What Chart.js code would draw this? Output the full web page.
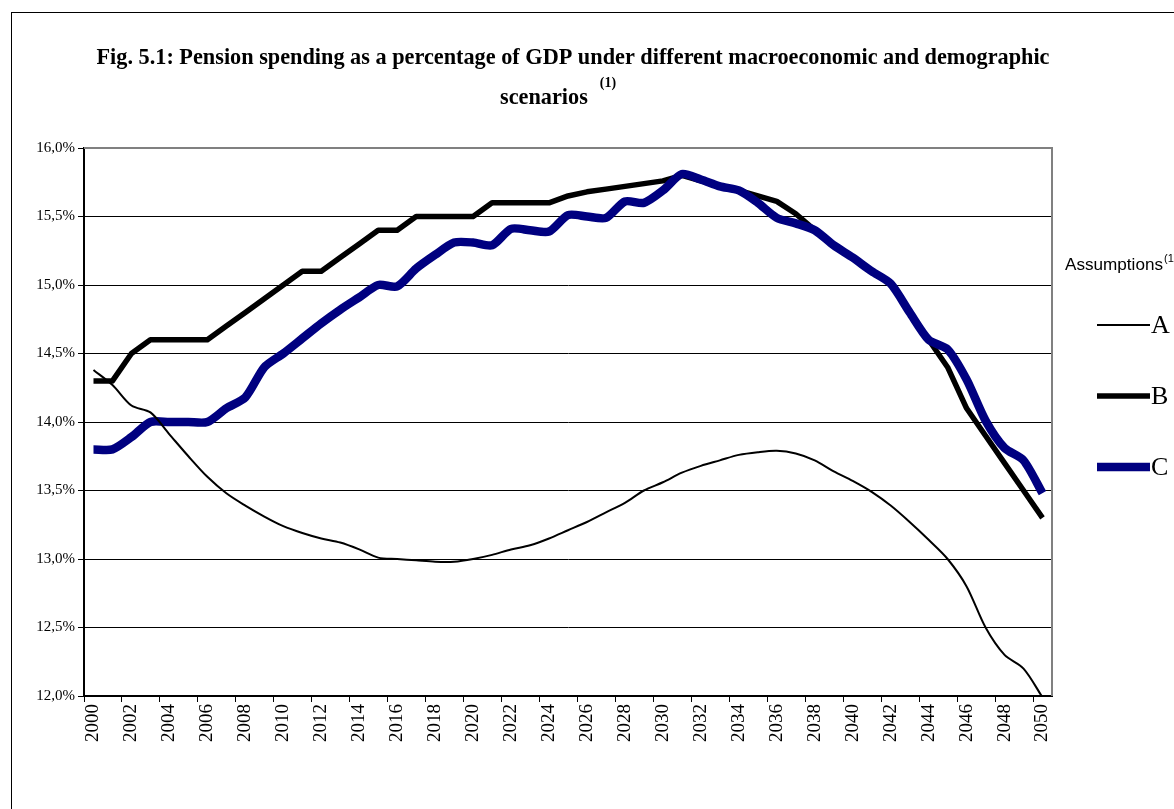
<!DOCTYPE html>
<html><head><meta charset="utf-8">
<script src="https://cdn.jsdelivr.net/npm/chart.js@4.4.0/dist/chart.umd.min.js"></script>
<style>html,body{margin:0;padding:0;background:#fff;overflow:hidden}#wrap{position:relative;width:1174px;height:809px}</style>
</head><body><div id="wrap"><canvas id="c" width="1174" height="809"></canvas></div>
<script>
const years = ['2000','2001','2002','2003','2004','2005','2006','2007','2008','2009','2010','2011','2012','2013','2014','2015','2016','2017','2018','2019','2020','2021','2022','2023','2024','2025','2026','2027','2028','2029','2030','2031','2032','2033','2034','2035','2036','2037','2038','2039','2040','2041','2042','2043','2044','2045','2046','2047','2048','2049','2050'];
const seriesA = [14.38,14.27,14.12,14.07,13.91,13.75,13.60,13.48,13.39,13.31,13.24,13.19,13.15,13.12,13.07,13.01,13.00,12.99,12.98,12.98,13.00,13.03,13.07,13.10,13.15,13.21,13.27,13.34,13.41,13.50,13.56,13.63,13.68,13.72,13.76,13.78,13.79,13.77,13.72,13.64,13.57,13.49,13.39,13.27,13.14,13.00,12.80,12.50,12.30,12.20,11.99];
const seriesB = [14.30,14.30,14.50,14.60,14.60,14.60,14.60,14.70,14.80,14.90,15.00,15.10,15.10,15.20,15.30,15.40,15.40,15.50,15.50,15.50,15.50,15.60,15.60,15.60,15.60,15.65,15.68,15.70,15.72,15.74,15.76,15.80,15.76,15.72,15.69,15.65,15.61,15.52,15.40,15.29,15.20,15.10,15.01,14.80,14.60,14.40,14.10,13.90,13.70,13.50,13.30];
const seriesC = [13.80,13.80,13.89,14.00,14.00,14.00,14.00,14.10,14.18,14.40,14.50,14.61,14.72,14.82,14.91,15.00,14.99,15.12,15.22,15.31,15.31,15.29,15.41,15.40,15.39,15.51,15.50,15.49,15.61,15.60,15.69,15.81,15.77,15.72,15.69,15.60,15.49,15.45,15.40,15.29,15.20,15.10,15.01,14.80,14.60,14.53,14.31,14.01,13.81,13.72,13.48];
const seriesNames = ['A','B','C'];
const yMin = 12, yMax = 16, yStep = 0.5;
const titleLine1 = 'Fig. 5.1: Pension spending as a percentage of GDP under different macroeconomic and demographic';
const titleLine2 = 'scenarios';
const titleSup = '(1)';
const legendTitle = 'Assumptions';
const legendSup = '(1)';

const serif = '"Liberation Serif", "Times New Roman", serif';
const sans = '"Liberation Sans", Arial, sans-serif';

function drawScaledText(ctx, text, x, y, font, sx, align) {
  ctx.save();
  ctx.font = font;
  ctx.textBaseline = 'alphabetic';
  const w = ctx.measureText(text).width * sx;
  let left = x;
  if (align === 'center') left = x - w / 2;
  else if (align === 'right') left = x - w;
  ctx.translate(left, y);
  ctx.scale(sx, 1);
  ctx.textAlign = 'left';
  ctx.fillText(text, 0, 0);
  ctx.restore();
  return w;
}

const decor = {
  id: 'decor',
  beforeDatasetsDraw(chart) {
    const {ctx, chartArea: a} = chart;
    ctx.save();
    ctx.strokeStyle = '#808080';
    ctx.lineWidth = 2;
    ctx.beginPath();
    ctx.moveTo(a.left, a.top);
    ctx.lineTo(a.right, a.top);
    ctx.lineTo(a.right, a.bottom);
    ctx.stroke();
    ctx.restore();
  },
  afterDraw(chart) {
    const {ctx} = chart;
    ctx.save();
    ctx.strokeStyle = '#000';
    ctx.lineWidth = 1;
    ctx.strokeRect(11.5, 12.5, 1300, 1000);
    ctx.fillStyle = '#000';
    // title
    const tFont = 'bold 24px ' + serif;
    ctx.font = tFont;
    const w1 = ctx.measureText(titleLine1).width;
    const sx = 953 / w1;
    drawScaledText(ctx, titleLine1, 573, 64, tFont, sx, 'center');
    const w2 = drawScaledText(ctx, titleLine2, 500, 104, tFont, sx, 'left');
    drawScaledText(ctx, titleSup, 500 + w2 + 12, 87, 'bold 15px ' + serif, sx, 'left');
    // legend title
    const lFont = '17px ' + sans;
    ctx.font = lFont;
    const lsx = 98 / ctx.measureText(legendTitle).width;
    drawScaledText(ctx, legendTitle, 1065, 270, lFont, lsx, 'left');
    drawScaledText(ctx, legendSup, 1164, 262, '11px ' + sans, lsx, 'left');
    const ys = [325, 396, 467];
    chart.data.datasets.forEach((ds, i) => {
      ctx.save();
      ctx.strokeStyle = ds.borderColor;
      ctx.lineWidth = ds.borderWidth;
      ctx.lineCap = 'butt';
      ctx.beginPath();
      ctx.moveTo(1097, ys[i]);
      ctx.lineTo(1150, ys[i]);
      ctx.stroke();
      ctx.restore();
      ctx.fillStyle = '#000';
      ctx.font = '26px ' + serif;
      ctx.textBaseline = 'middle';
      ctx.textAlign = 'left';
      ctx.fillText(ds.label, 1151, ys[i] + 1);
    });
    ctx.restore();
  }
};

new Chart(document.getElementById('c'), {
  type: 'line',
  data: {
    labels: years,
    datasets: [
      {label: seriesNames[0], data: seriesA, borderColor: '#000000', borderWidth: 2, tension: 0.3, order: 0},
      {label: seriesNames[1], data: seriesB, borderColor: '#000000', borderWidth: 5.5, tension: 0, order: 2},
      {label: seriesNames[2], data: seriesC, borderColor: '#000080', borderWidth: 8.5, tension: 0.25, order: 1}
    ]
  },
  options: {
    responsive: false,
    animation: false,
    devicePixelRatio: 1,
    elements: {point: {radius: 0, hoverRadius: 0}, line: {borderCapStyle: 'butt', borderJoinStyle: 'round'}},
    layout: {padding: {left: 0, right: 122, top: 148, bottom: 0}},
    plugins: {legend: {display: false}, title: {display: false}, tooltip: {enabled: false}},
    scales: {
      x: {
        type: 'category',
        offset: true,
        afterFit(s) { s.height = 113; },
        grid: {
          offset: true,
          drawOnChartArea: false,
          drawTicks: true,
          tickLength: 6,
          color: c => (c.index % 2 === 0 ? '#000' : 'rgba(0,0,0,0)'),
          lineWidth: 1
        },
        border: {display: true, color: '#000', width: 2},
        ticks: {
          autoSkip: false,
          maxRotation: 90,
          minRotation: 90,
          padding: 2,
          color: '#000',
          font: {family: serif, size: 19},
          callback(v, i) { return i % 2 === 0 ? this.getLabelForValue(v) : ''; }
        }
      },
      y: {
        min: yMin,
        max: yMax,
        afterFit(s) { s.width = 84; },
        grid: {color: '#000', lineWidth: 1, tickLength: 6, drawTicks: true},
        border: {display: true, color: '#000', width: 2},
        ticks: {
          stepSize: yStep,
          padding: 3,
          color: '#000',
          font: {family: serif, size: 15},
          callback: v => v.toFixed(1).replace('.', ',') + '%'
        }
      }
    }
  },
  plugins: [decor]
});
</script>
</body></html>
